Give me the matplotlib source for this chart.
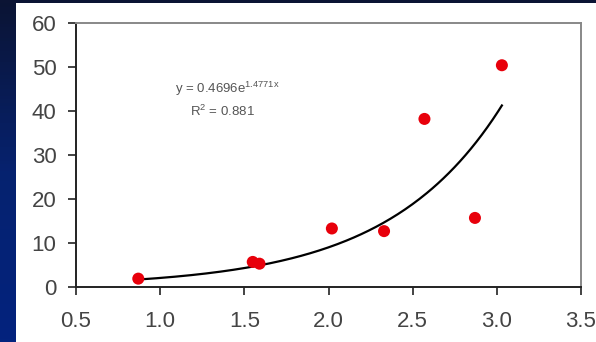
import numpy as np
import matplotlib.pyplot as plt
from matplotlib.colors import LinearSegmentedColormap

# data
x_vals = [0.87, 1.55, 1.59, 2.02, 2.33, 2.57, 2.87, 3.03]
y_vals = [1.9, 5.7, 5.3, 13.3, 12.7, 38.2, 15.7, 50.4]

# exponential trendline coefficients shown on the chart
coef_a = 0.4696
coef_b = 1.4771
r_squared = 0.881

x_ticks = [0.5, 1.0, 1.5, 2.0, 2.5, 3.0, 3.5]
y_ticks = [0, 10, 20, 30, 40, 50, 60]

W, H = 596, 342
fig = plt.figure(figsize=(W / 100, H / 100), dpi=100, facecolor="white")
plt.rcParams["font.family"] = ["Liberation Sans", "DejaVu Sans"]
plt.rcParams["mathtext.default"] = "regular"

# dark blue slide background around the white panel
navy = LinearSegmentedColormap.from_list("navy", ["#0b1434", "#06226f", "#03237e"])
bg_left = fig.add_axes([0, 0, 16 / W, 1])
bg_left.imshow(np.linspace(0, 1, 100).reshape(-1, 1), aspect="auto", cmap=navy)
bg_left.axis("off")
bg_top = fig.add_axes([0, 1 - 3 / H, 1, 3 / H])
bg_top.set_facecolor("#0b1434")
bg_top.set_xticks([])
bg_top.set_yticks([])
for s in bg_top.spines.values():
    s.set_visible(False)

ax = fig.add_axes([76 / W, 1 - 287 / H, 505 / W, 264 / H])
ax.set_xlim(0.5, 3.5)
ax.set_ylim(0, 60)

xs = np.linspace(min(x_vals), max(x_vals), 200)
ax.plot(xs, coef_a * np.exp(coef_b * xs), color="black", lw=1.6, zorder=2)
ax.scatter(x_vals, y_vals, s=75, color="#e8000b", edgecolors="none", zorder=3)

ax.set_xticks(x_ticks)
ax.set_xticklabels([f"{t:.1f}" for t in x_ticks])
ax.set_yticks(y_ticks)
ax.tick_params(direction="out", length=6, width=1.2, colors="#222222",
               labelcolor="#444444", labelsize=16)
ax.tick_params(axis="x", pad=11)
ax.tick_params(axis="y", pad=8)

for side in ["left", "bottom"]:
    ax.spines[side].set_color("#222222")
    ax.spines[side].set_linewidth(1.4)
for side in ["top", "right"]:
    ax.spines[side].set_color("#888888")
    ax.spines[side].set_linewidth(1.4)

ax.text(1.40, 45.0, f"y = {coef_a}e$^{{{coef_b}x}}$", ha="center", va="center",
        fontsize=9.5, color="#555555")
ax.text(1.37, 40.0, f"R$^2$ = {r_squared}", ha="center", va="center",
        fontsize=9.5, color="#555555")

fig.savefig("out.png", dpi=100, facecolor="white")
